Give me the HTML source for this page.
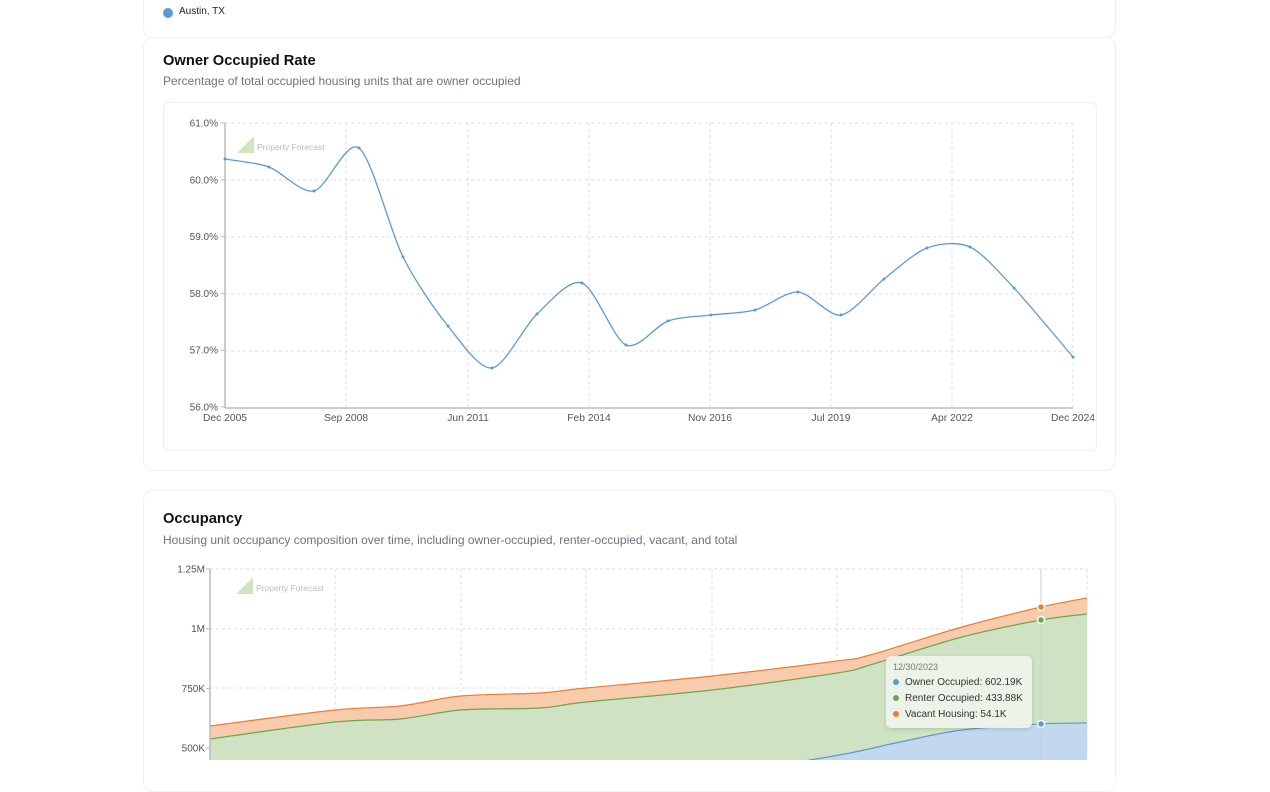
<!DOCTYPE html>
<html><head><meta charset="utf-8"><style>
body{margin:0;width:1270px;height:760px;background:#fff;font-family:"Liberation Sans",sans-serif;overflow:hidden;position:relative}
.card{position:absolute;border:1px solid #eef0f2;border-radius:10px;background:#fff}
.t{position:absolute;font-weight:bold;font-size:14.7px;color:#111}
.s{position:absolute;font-size:12px;color:#6b7280}
svg text{font-family:"Liberation Sans",sans-serif}
</style></head><body>
<div class="card" style="left:143px;top:-10px;width:971px;height:46px"></div>
<div style="position:absolute;left:163px;top:8px;width:10px;height:10px;border-radius:50%;background:#5b9bd5"></div>
<div style="position:absolute;left:179px;top:6px;font-size:10px;color:#222">Austin, TX</div>
<div class="card" style="left:143px;top:37px;width:971px;height:432px"></div>
<div class="t" style="left:163px;top:53px">Owner Occupied Rate</div>
<div class="s" style="left:163px;top:74px">Percentage of total occupied housing units that are owner occupied</div>
<div class="card" style="left:163px;top:102px;width:932px;height:347px;border-radius:6px"></div>
<div class="card" style="left:143px;top:490px;width:971px;height:300px"></div>
<div class="t" style="left:163px;top:511px">Occupancy</div>
<div class="s" style="left:163px;top:533px">Housing unit occupancy composition over time, including owner-occupied, renter-occupied, vacant, and total</div>
<svg id="s" width="1270" height="760" style="position:absolute;left:0;top:0"></svg>
<div style="position:absolute;left:886px;top:656px;width:146px;height:72px;background:rgba(240,244,236,0.93);border-radius:5px;box-shadow:0 1px 4px rgba(0,0,0,0.15);font-size:10px;color:#333">
<div style="position:absolute;left:7px;top:6px;color:#777;font-size:9px">12/30/2023</div>
<div style="position:absolute;left:7px;top:21px"><span style="display:inline-block;width:6px;height:6px;border-radius:50%;background:#5b9bd5;margin-right:6px"></span>Owner Occupied: 602.19K</div>
<div style="position:absolute;left:7px;top:37px"><span style="display:inline-block;width:6px;height:6px;border-radius:50%;background:#6aa84f;margin-right:6px"></span>Renter Occupied: 433.88K</div>
<div style="position:absolute;left:7px;top:53px"><span style="display:inline-block;width:6px;height:6px;border-radius:50%;background:#ed7d31;margin-right:6px"></span>Vacant Housing: 54.1K</div>
</div>
<script>
function cr(p,k){k=k||6;let d="M"+p[0][0]+","+p[0][1];for(let i=0;i<p.length-1;i++){const a=p[i-1]||p[i],b=p[i],c=p[i+1],e=p[i+2]||c;d+=" C"+(b[0]+(c[0]-a[0])/k)+","+(b[1]+(c[1]-a[1])/k)+" "+(c[0]-(e[0]-b[0])/k)+","+(c[1]-(e[1]-b[1])/k)+" "+c[0]+","+c[1];}return d;}
let h="";
[123,180,237,294,351].forEach(y=>h+=`<line x1="225" x2="1073" y1="${y}" y2="${y}" stroke="#dcdcdc" stroke-dasharray="3,3"/>`);
[346,468,589,710,831,952,1073].forEach(x=>h+=`<line x1="${x}" x2="${x}" y1="123" y2="407" stroke="#dcdcdc" stroke-dasharray="3,3"/>`);
h+=`<line x1="225" x2="225" y1="123" y2="408" stroke="#bbb" stroke-width="1.5"/><line x1="225" x2="1073" y1="408" y2="408" stroke="#bbb" stroke-width="1.5"/>`;
["61.0%","60.0%","59.0%","58.0%","57.0%","56.0%"].forEach((t,i)=>{let y=123+i*56.8;h+=`<text x="218" y="${y+3.5}" font-size="10" fill="#555" text-anchor="end">${t}</text><line x1="221" x2="225" y1="${y}" y2="${y}" stroke="#bbb"/>`});
[["Dec 2005",225],["Sep 2008",346],["Jun 2011",468],["Feb 2014",589],["Nov 2016",710],["Jul 2019",831],["Apr 2022",952],["Dec 2024",1073]].forEach(([t,x])=>h+=`<text x="${x}" y="421" font-size="10.3" fill="#555" text-anchor="middle">${t}</text>`);
const P=[[225,159],[269,167],[314,191],[359,148],[403,257],[448,326],[492,368],[537,314],[582,283],[626,345],[668,321],[711,315],[755,310],[798,292],[841,315],[884,279],[927,248],[970,247],[1014,288],[1073,357]];
h+=`<path d="${cr(P,7)}" fill="none" stroke="#5b9bd5" stroke-width="1.3"/>`;
P.forEach(p=>h+=`<circle cx="${p[0]}" cy="${p[1]}" r="1.5" fill="#5b9bd5"/>`);
h+=`<text x="257" y="150" font-size="8.5" fill="#bbb">Property Forecast</text><path d="M237,153 L254,136 L254,153Z" fill="#cfe6bf"/>`;
h+=`<text x="256" y="591" font-size="8.5" fill="#bbb">Property Forecast</text><path d="M236,594 L253,577 L253,594Z" fill="#cfe6bf"/>`;
[569,629,688,748].forEach(y=>h+=`<line x1="210" x2="1087" y1="${y}" y2="${y}" stroke="#dcdcdc" stroke-dasharray="3,3"/>`);
[335,461,586,712,837,962,1087].forEach(x=>h+=`<line x1="${x}" x2="${x}" y1="569" y2="760" stroke="#dcdcdc" stroke-dasharray="3,3"/>`);
const O=[[210,726],[335,710],[400,706],[461,696],[540,693],[586,688],[712,676],[837,661],[870,655],[962,627],[1041,607],[1087,598]];
const G=[[210,739],[335,722],[400,719],[461,710],[540,708],[586,702],[712,690],[837,673],[870,665],[962,637],[1041,620],[1087,614]];
const B=[[780,765],[850,753],[900,742],[962,730],[1041,724],[1087,723]];
h+=`<path d="${cr(O)} L1087,760 L210,760Z" fill="#f8cbad"/><path d="${cr(O)}" fill="none" stroke="#ed7d31" stroke-width="1.2"/>`;
h+=`<path d="${cr(G)} L1087,760 L210,760Z" fill="#cfe2c3"/><path d="${cr(G)}" fill="none" stroke="#6aa84f" stroke-width="1.2"/>`;
h+=`<path d="${cr(B)} L1087,765 L780,765Z" fill="#c2d8ef"/><path d="${cr(B)}" fill="none" stroke="#5b9bd5" stroke-width="1.2"/>`;
h+=`<line x1="1041" x2="1041" y1="569" y2="760" stroke="#ccc"/>`;
h+=`<line x1="210" x2="210" y1="569" y2="760" stroke="#bbb" stroke-width="1.5"/>`;
["1.25M","1M","750K","500K"].forEach((t,i)=>{let y=569+i*59.7;h+=`<text x="205" y="${y+3.5}" font-size="10" fill="#555" text-anchor="end">${t}</text><line x1="206" x2="210" y1="${y}" y2="${y}" stroke="#bbb"/>`});
[[607,"#ed7d31"],[620,"#6aa84f"],[724,"#5b9bd5"]].forEach(([y,c])=>h+=`<circle cx="1041" cy="${y}" r="3.5" fill="${c}" stroke="#fff" stroke-width="1.5"/>`);
document.getElementById("s").innerHTML=h;
</script>
</body></html>
